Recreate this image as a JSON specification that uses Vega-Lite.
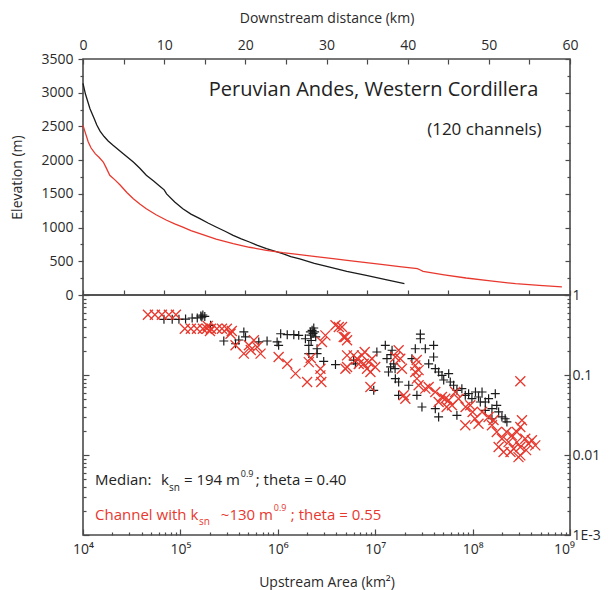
{
  "$schema": "https://vega.github.io/schema/vega-lite/v6.json",
  "padding": {"left": 10, "top": 10, "right": 0, "bottom": 0},
  "spacing": 0,
  "bounds": "flush",
  "config": {
    "font": "Open Sans",
    "view": {"stroke": "#4a4a4a", "strokeWidth": 1.6},
    "axis": {
      "domain": false, "grid": false,
      "labelFont": "Open Sans", "labelFontSize": 14, "labelColor": "#2a2a2a",
      "titleFont": "Open Sans", "titleFontSize": 14, "titleFontWeight": "normal", "titleColor": "#2a2a2a",
      "tickColor": "#4a4a4a", "tickWidth": 1.2, "labelOverlap": false, "labelFlush": false
    }
  },
  "datasets": {
    "profiles": [
      {"series": "median", "km": 0, "elev": 3140}, {"series": "median", "km": 0.3, "elev": 2980}, {"series": "median", "km": 0.86, "elev": 2763},
      {"series": "median", "km": 1.4, "elev": 2610}, {"series": "median", "km": 1.7, "elev": 2520}, {"series": "median", "km": 2.1, "elev": 2430},
      {"series": "median", "km": 2.6, "elev": 2350}, {"series": "median", "km": 3.1, "elev": 2285}, {"series": "median", "km": 3.7, "elev": 2220},
      {"series": "median", "km": 5.0, "elev": 2090}, {"series": "median", "km": 6.2, "elev": 1972}, {"series": "median", "km": 7.0, "elev": 1880},
      {"series": "median", "km": 7.8, "elev": 1775}, {"series": "median", "km": 8.7, "elev": 1690}, {"series": "median", "km": 9.5, "elev": 1610},
      {"series": "median", "km": 10.0, "elev": 1560}, {"series": "median", "km": 10.3, "elev": 1500}, {"series": "median", "km": 11.3, "elev": 1380},
      {"series": "median", "km": 12.3, "elev": 1280}, {"series": "median", "km": 13.3, "elev": 1200}, {"series": "median", "km": 14.4, "elev": 1132},
      {"series": "median", "km": 15.4, "elev": 1068}, {"series": "median", "km": 16.4, "elev": 1008}, {"series": "median", "km": 17.5, "elev": 945},
      {"series": "median", "km": 18.5, "elev": 885}, {"series": "median", "km": 19.5, "elev": 833}, {"series": "median", "km": 20.5, "elev": 786},
      {"series": "median", "km": 21.5, "elev": 735}, {"series": "median", "km": 22.6, "elev": 687}, {"series": "median", "km": 23.6, "elev": 650},
      {"series": "median", "km": 24.6, "elev": 613}, {"series": "median", "km": 25.6, "elev": 570}, {"series": "median", "km": 26.7, "elev": 535},
      {"series": "median", "km": 28.5, "elev": 470}, {"series": "median", "km": 30.4, "elev": 415}, {"series": "median", "km": 32.5, "elev": 350},
      {"series": "median", "km": 34.9, "elev": 292}, {"series": "median", "km": 37.3, "elev": 228}, {"series": "median", "km": 39.6, "elev": 168},
      {"series": "channel", "km": 0, "elev": 2516}, {"series": "channel", "km": 0.3, "elev": 2400}, {"series": "channel", "km": 0.65, "elev": 2269},
      {"series": "channel", "km": 1.0, "elev": 2180}, {"series": "channel", "km": 1.5, "elev": 2096}, {"series": "channel", "km": 2.0, "elev": 2040},
      {"series": "channel", "km": 2.5, "elev": 1972}, {"series": "channel", "km": 2.8, "elev": 1900}, {"series": "channel", "km": 3.3, "elev": 1775},
      {"series": "channel", "km": 4.0, "elev": 1700}, {"series": "channel", "km": 4.6, "elev": 1627}, {"series": "channel", "km": 5.4, "elev": 1520},
      {"series": "channel", "km": 6.2, "elev": 1428}, {"series": "channel", "km": 7.0, "elev": 1350}, {"series": "channel", "km": 7.8, "elev": 1280},
      {"series": "channel", "km": 9.0, "elev": 1190}, {"series": "channel", "km": 10.3, "elev": 1108}, {"series": "channel", "km": 11.3, "elev": 1055},
      {"series": "channel", "km": 12.3, "elev": 1008}, {"series": "channel", "km": 13.3, "elev": 955}, {"series": "channel", "km": 14.4, "elev": 909},
      {"series": "channel", "km": 16.4, "elev": 830}, {"series": "channel", "km": 18.5, "elev": 761}, {"series": "channel", "km": 20.5, "elev": 708},
      {"series": "channel", "km": 22.6, "elev": 663}, {"series": "channel", "km": 24.6, "elev": 628}, {"series": "channel", "km": 26.7, "elev": 598},
      {"series": "channel", "km": 28.7, "elev": 568}, {"series": "channel", "km": 30.8, "elev": 539}, {"series": "channel", "km": 32.8, "elev": 509},
      {"series": "channel", "km": 34.9, "elev": 479}, {"series": "channel", "km": 37.0, "elev": 450}, {"series": "channel", "km": 39.0, "elev": 420},
      {"series": "channel", "km": 41.2, "elev": 392}, {"series": "channel", "km": 41.5, "elev": 375}, {"series": "channel", "km": 41.9, "elev": 351},
      {"series": "channel", "km": 44.5, "elev": 300}, {"series": "channel", "km": 47.2, "elev": 252}, {"series": "channel", "km": 50.2, "elev": 210},
      {"series": "channel", "km": 53.3, "elev": 168}, {"series": "channel", "km": 56.2, "elev": 142}, {"series": "channel", "km": 59.0, "elev": 119}
    ],
    "black": [
      {"area": 6.78e4, "slope": 0.497}, {"area": 8.24e4, "slope": 0.497}, {"area": 9.66e4, "slope": 0.497}, {"area": 1.13e5, "slope": 0.50},
      {"area": 1.32e5, "slope": 0.516}, {"area": 1.49e5, "slope": 0.516}, {"area": 1.62e5, "slope": 0.546}, {"area": 1.70e5, "slope": 0.562},
      {"area": 1.78e5, "slope": 0.539}, {"area": 1.66e5, "slope": 0.53}, {"area": 2.04e5, "slope": 0.418}, {"area": 2.79e5, "slope": 0.266},
      {"area": 3.68e5, "slope": 0.246}, {"area": 3.98e5, "slope": 0.274}, {"area": 4.48e5, "slope": 0.345}, {"area": 4.66e5, "slope": 0.299},
      {"area": 6.38e5, "slope": 0.259}, {"area": 7.76e5, "slope": 0.266}, {"area": 9.84e5, "slope": 0.259}, {"area": 1.02e6, "slope": 0.235},
      {"area": 1.07e6, "slope": 0.328}, {"area": 1.25e6, "slope": 0.319}, {"area": 1.46e6, "slope": 0.319}, {"area": 1.64e6, "slope": 0.313},
      {"area": 1.92e6, "slope": 0.284}, {"area": 2.16e6, "slope": 0.345}, {"area": 2.25e6, "slope": 0.362}, {"area": 2.34e6, "slope": 0.387},
      {"area": 2.39e6, "slope": 0.345}, {"area": 2.18e6, "slope": 0.316}, {"area": 2.08e6, "slope": 0.235}, {"area": 2.08e6, "slope": 0.185},
      {"area": 2.53e6, "slope": 0.213}, {"area": 2.53e6, "slope": 0.185}, {"area": 2.96e6, "slope": 0.148}, {"area": 3.91e6, "slope": 0.135},
      {"area": 2.3e6, "slope": 0.33}, {"area": 2.45e6, "slope": 0.30}, {"area": 2.2e6, "slope": 0.27},
      {"area": 6.01e6, "slope": 0.153}, {"area": 6.26e6, "slope": 0.138}, {"area": 9.66e6, "slope": 0.0644}, {"area": 1.04e7, "slope": 0.194},
      {"area": 1.27e7, "slope": 0.235}, {"area": 1.32e7, "slope": 0.160}, {"area": 1.37e7, "slope": 0.109}, {"area": 1.49e7, "slope": 0.204},
      {"area": 1.55e7, "slope": 0.138}, {"area": 1.61e7, "slope": 0.090}, {"area": 1.74e7, "slope": 0.0557}, {"area": 2.21e7, "slope": 0.0744},
      {"area": 2.38e7, "slope": 0.160}, {"area": 2.58e7, "slope": 0.213}, {"area": 2.68e7, "slope": 0.0557}, {"area": 2.91e7, "slope": 0.284},
      {"area": 2.91e7, "slope": 0.325}, {"area": 3.02e7, "slope": 0.0398}, {"area": 3.27e7, "slope": 0.213}, {"area": 3.54e7, "slope": 0.138},
      {"area": 3.98e7, "slope": 0.235}, {"area": 3.98e7, "slope": 0.168}, {"area": 4.14e7, "slope": 0.120}, {"area": 4.48e7, "slope": 0.109},
      {"area": 4.14e7, "slope": 0.0379}, {"area": 4.48e7, "slope": 0.0299}, {"area": 5.68e7, "slope": 0.104}, {"area": 5.9e7, "slope": 0.0818},
      {"area": 6.38e7, "slope": 0.0744}, {"area": 6.9e7, "slope": 0.0644}, {"area": 6.9e7, "slope": 0.0313}, {"area": 7.76e7, "slope": 0.0675},
      {"area": 8.41e7, "slope": 0.0557}, {"area": 9.1e7, "slope": 0.0584}, {"area": 9.84e7, "slope": 0.0506}, {"area": 1.07e8, "slope": 0.0613},
      {"area": 1.15e8, "slope": 0.0531}, {"area": 1.2e8, "slope": 0.046}, {"area": 1.25e8, "slope": 0.0613}, {"area": 1.35e8, "slope": 0.046},
      {"area": 1.46e8, "slope": 0.0506}, {"area": 1.58e8, "slope": 0.0379}, {"area": 1.71e8, "slope": 0.0584}, {"area": 1.77e8, "slope": 0.0418},
      {"area": 1.85e8, "slope": 0.0345}, {"area": 2.0e8, "slope": 0.0299}, {"area": 2.16e8, "slope": 0.0284}, {"area": 2.25e8, "slope": 0.0259},
      {"area": 1.58e8, "slope": 0.0284}, {"area": 1.35e8, "slope": 0.0362}, {"area": 1.74e7, "slope": 0.0818}, {"area": 1.44e7, "slope": 0.126},
      {"area": 5.05e7, "slope": 0.0866}, {"area": 4.85e7, "slope": 0.099}, {"area": 1.45e7, "slope": 0.18}, {"area": 1.6e7, "slope": 0.12}
    ],
    "red": [
      {"area": 4.64e4, "slope": 0.567}, {"area": 5.47e4, "slope": 0.567}, {"area": 6.45e4, "slope": 0.567}, {"area": 7.62e4, "slope": 0.567}, {"area": 8.99e4, "slope": 0.567},
      {"area": 1.11e5, "slope": 0.379}, {"area": 1.28e5, "slope": 0.379}, {"area": 1.48e5, "slope": 0.379}, {"area": 1.70e5, "slope": 0.379}, {"area": 1.87e5, "slope": 0.379},
      {"area": 2.06e5, "slope": 0.379}, {"area": 2.37e5, "slope": 0.379}, {"area": 2.67e5, "slope": 0.379}, {"area": 3.0e5, "slope": 0.379}, {"area": 1.91e5, "slope": 0.41},
      {"area": 2.01e5, "slope": 0.355}, {"area": 3.27e5, "slope": 0.328}, {"area": 3.37e5, "slope": 0.355}, {"area": 3.68e5, "slope": 0.235}, {"area": 4.48e5, "slope": 0.185},
      {"area": 5.05e5, "slope": 0.235}, {"area": 5.68e5, "slope": 0.272}, {"area": 6.14e5, "slope": 0.224}, {"area": 6.65e5, "slope": 0.185}, {"area": 5.28e5, "slope": 0.205},
      {"area": 1.02e6, "slope": 0.168}, {"area": 1.25e6, "slope": 0.138}, {"area": 1.52e6, "slope": 0.104}, {"area": 2.0e6, "slope": 0.0818}, {"area": 2.08e6, "slope": 0.145},
      {"area": 2.18e6, "slope": 0.163}, {"area": 2.74e6, "slope": 0.120}, {"area": 2.74e6, "slope": 0.099}, {"area": 2.8e6, "slope": 0.0818}, {"area": 2.84e6, "slope": 0.259},
      {"area": 3.08e6, "slope": 0.313}, {"area": 3.91e6, "slope": 0.418}, {"area": 4.56e6, "slope": 0.398}, {"area": 4.94e6, "slope": 0.299}, {"area": 4.23e6, "slope": 0.398},
      {"area": 4.75e6, "slope": 0.299}, {"area": 5.14e6, "slope": 0.272}, {"area": 5.14e6, "slope": 0.176}, {"area": 4.94e6, "slope": 0.120}, {"area": 5.14e6, "slope": 0.126},
      {"area": 6.01e6, "slope": 0.176}, {"area": 6.5e6, "slope": 0.160}, {"area": 7.32e6, "slope": 0.176}, {"area": 7.62e6, "slope": 0.138}, {"area": 8.24e6, "slope": 0.120},
      {"area": 8.57e6, "slope": 0.145}, {"area": 8.93e6, "slope": 0.109}, {"area": 9.27e6, "slope": 0.160}, {"area": 8.93e6, "slope": 0.0708}, {"area": 1.0e7, "slope": 0.126},
      {"area": 6.78e6, "slope": 0.137}, {"area": 7.8e6, "slope": 0.194}, {"area": 1.61e7, "slope": 0.168}, {"area": 1.74e7, "slope": 0.204}, {"area": 1.81e7, "slope": 0.160},
      {"area": 1.88e7, "slope": 0.120}, {"area": 1.96e7, "slope": 0.0557}, {"area": 2.04e7, "slope": 0.0506}, {"area": 2.58e7, "slope": 0.132}, {"area": 2.58e7, "slope": 0.109},
      {"area": 2.68e7, "slope": 0.090}, {"area": 2.79e7, "slope": 0.0744}, {"area": 2.67e7, "slope": 0.154}, {"area": 2.79e7, "slope": 0.115}, {"area": 3.27e7, "slope": 0.0675},
      {"area": 3.54e7, "slope": 0.0708}, {"area": 4.14e7, "slope": 0.0613}, {"area": 4.84e7, "slope": 0.0531}, {"area": 5.24e7, "slope": 0.0506}, {"area": 5.68e7, "slope": 0.0483},
      {"area": 6.14e7, "slope": 0.0418}, {"area": 6.64e7, "slope": 0.0613}, {"area": 7.18e7, "slope": 0.0506}, {"area": 5.41e7, "slope": 0.0398}, {"area": 4.48e7, "slope": 0.046},
      {"area": 8.41e7, "slope": 0.0235}, {"area": 9.46e7, "slope": 0.0418}, {"area": 1.06e8, "slope": 0.0284}, {"area": 1.15e8, "slope": 0.0246}, {"area": 1.25e8, "slope": 0.0345},
      {"area": 1.0e8, "slope": 0.0345}, {"area": 8.47e7, "slope": 0.0398}, {"area": 1.58e8, "slope": 0.0235}, {"area": 1.77e8, "slope": 0.0194}, {"area": 2.0e8, "slope": 0.016},
      {"area": 2.08e8, "slope": 0.0109}, {"area": 2.34e8, "slope": 0.0145}, {"area": 2.53e8, "slope": 0.0176}, {"area": 2.64e8, "slope": 0.012}, {"area": 2.85e8, "slope": 0.0145},
      {"area": 3.09e8, "slope": 0.0126}, {"area": 3.09e8, "slope": 0.0099}, {"area": 3.21e8, "slope": 0.0272}, {"area": 3.09e8, "slope": 0.0834}, {"area": 3.47e8, "slope": 0.016},
      {"area": 3.75e8, "slope": 0.0138}, {"area": 4.06e8, "slope": 0.0153}, {"area": 4.4e8, "slope": 0.0132}, {"area": 2.85e8, "slope": 0.0194}, {"area": 2.45e8, "slope": 0.0109},
      {"area": 2.96e8, "slope": 0.0094}, {"area": 3.54e8, "slope": 0.0115}, {"area": 1.85e8, "slope": 0.0126}, {"area": 2.23e8, "slope": 0.0194}, {"area": 1.46e8, "slope": 0.0299},
      {"area": 1.64e8, "slope": 0.0274}, {"area": 3.09e8, "slope": 0.0224}
    ]
  },
  "vconcat": [
    {
      "width": 487, "height": 236,
      "resolve": {"axis": {"x": "independent", "y": "independent"}},
      "layer": [
        {
          "data": {"name": "profiles"},
          "mark": {"type": "line", "strokeWidth": 1.3},
          "encoding": {
            "x": {"field": "km", "type": "quantitative", "scale": {"domain": [0, 60], "nice": false},
              "axis": {"orient": "top", "values": [0,5,10,15,20,25,30,35,40,45,50,55,60], "format": "d",
                "labelExpr": "datum.value % 10 == 0 ? datum.label : ''", "tickSize": -5, "labelPadding": 12,
                "title": "Downstream distance (km)", "titlePadding": 13}},
            "y": {"field": "elev", "type": "quantitative", "scale": {"domain": [0, 3500], "nice": false},
              "axis": {"orient": "left", "values": [0,250,500,750,1000,1250,1500,1750,2000,2250,2500,2750,3000,3250,3500], "format": "d",
                "labelExpr": "datum.value % 500 == 0 ? datum.label : ''",
                "tickSize": {"condition": {"test": "datum.value % 500 == 0", "value": 5}, "value": 3},
                "labelPadding": 5, "title": "Elevation (m)", "titlePadding": 16}},
            "color": {"field": "series", "type": "nominal", "scale": {"domain": ["median", "channel"], "range": ["#1a1a1a", "#e8382e"]}, "legend": null},
            "order": {"field": "km", "type": "quantitative"}
          }
        },
        {
          "data": {"values": [{}]},
          "mark": {"type": "text", "text": "Peruvian Andes, Western Cordillera", "align": "right", "baseline": "middle", "fontSize": 20, "color": "#222222"},
          "encoding": {
            "x": {"datum": 56.1, "type": "quantitative",
              "axis": {"orient": "bottom", "values": [0,5,10,15,20,25,30,35,40,45,50,55,60], "labels": false, "tickSize": -5, "title": null}},
            "y": {"datum": 3040, "type": "quantitative",
              "axis": {"orient": "right", "values": [0,250,500,750,1000,1250,1500,1750,2000,2250,2500,2750,3000,3250,3500], "labels": false,
                "tickSize": {"condition": {"test": "datum.value % 500 == 0", "value": -5}, "value": -3}, "title": null}}
          }
        },
        {
          "data": {"values": [{}]},
          "mark": {"type": "text", "text": "(120 channels)", "align": "right", "baseline": "middle", "fontSize": 17, "color": "#222222"},
          "encoding": {
            "x": {"datum": 56.5, "type": "quantitative", "axis": null},
            "y": {"datum": 2440, "type": "quantitative", "axis": null}
          }
        }
      ]
    },
    {
      "width": 487, "height": 240,
      "resolve": {"axis": {"x": "independent", "y": "independent"}},
      "layer": [
        {
          "data": {"name": "black"},
          "mark": {"type": "point", "shape": "M-1,0L1,0M0,-1L0,1", "filled": false, "stroke": "#1a1a1a", "strokeWidth": 1.2, "size": 80, "opacity": 1},
          "encoding": {
            "x": {"field": "area", "type": "quantitative", "scale": {"type": "log", "domain": [1e4, 1e9], "nice": false},
              "axis": {"orient": "bottom",
                "values": [1e4,2e4,3e4,4e4,5e4,6e4,7e4,8e4,9e4,1e5,2e5,3e5,4e5,5e5,6e5,7e5,8e5,9e5,1e6,2e6,3e6,4e6,5e6,6e6,7e6,8e6,9e6,1e7,2e7,3e7,4e7,5e7,6e7,7e7,8e7,9e7,1e8,2e8,3e8,4e8,5e8,6e8,7e8,8e8,9e8,1e9],
                "labelExpr": "abs(log(datum.value)/LN10 - round(log(datum.value)/LN10)) < 0.01 ? '10' + ['⁰','¹','²','³','⁴','⁵','⁶','⁷','⁸','⁹'][round(log(datum.value)/LN10)] : ''",
                "labelOffset": {"condition": {"test": "datum.value >= 9.9e8", "value": -6}, "value": 0},
                "tickSize": {"condition": {"test": "abs(log(datum.value)/LN10 - round(log(datum.value)/LN10)) < 0.01", "value": -6}, "value": -3},
                "labelPadding": 13, "title": "Upstream Area (km²)", "titlePadding": 16}},
            "y": {"field": "slope", "type": "quantitative", "scale": {"type": "log", "domain": [0.001, 1], "nice": false},
              "axis": {"orient": "left",
                "values": [0.001,0.002,0.003,0.004,0.005,0.006,0.007,0.008,0.009,0.01,0.02,0.03,0.04,0.05,0.06,0.07,0.08,0.09,0.1,0.2,0.3,0.4,0.5,0.6,0.7,0.8,0.9,1],
                "labels": false,
                "tickSize": {"condition": {"test": "abs(log(datum.value)/LN10 - round(log(datum.value)/LN10)) < 0.01", "value": -6}, "value": -3},
                "title": null}}
          }
        },
        {
          "data": {"name": "red"},
          "mark": {"type": "point", "shape": "M-1,-1L1,1M-1,1L1,-1", "filled": false, "stroke": "#e8382e", "strokeWidth": 1.3, "size": 100, "opacity": 1},
          "encoding": {
            "x": {"field": "area", "type": "quantitative", "axis": null},
            "y": {"field": "slope", "type": "quantitative",
              "axis": {"orient": "right",
                "values": [0.001,0.002,0.003,0.004,0.005,0.006,0.007,0.008,0.009,0.01,0.02,0.03,0.04,0.05,0.06,0.07,0.08,0.09,0.1,0.2,0.3,0.4,0.5,0.6,0.7,0.8,0.9,1],
                "labelExpr": "abs(log(datum.value)/LN10 - round(log(datum.value)/LN10)) < 0.01 ? (round(log(datum.value)/LN10) == -3 ? '1E-3' : format(datum.value, '~g')) : ''",
                "tickSize": {"condition": {"test": "abs(log(datum.value)/LN10 - round(log(datum.value)/LN10)) < 0.01", "value": -6}, "value": -3},
                "labelPadding": 8, "title": null}}
          }
        },
        {
          "data": {"values": [{}]},
          "mark": {"type": "text", "text": "Median:", "align": "left", "baseline": "alphabetic", "fontSize": 15, "color": "#222222"},
          "encoding": {"x": {"datum": 1.33e4, "type": "quantitative", "axis": null}, "y": {"datum": 0.00422, "type": "quantitative", "axis": null}}
        },
        {
          "data": {"values": [{}]},
          "mark": {"type": "text", "text": "k", "align": "left", "baseline": "alphabetic", "fontSize": 15, "color": "#222222"},
          "encoding": {"x": {"datum": 6.31e4, "type": "quantitative", "axis": null}, "y": {"datum": 0.00422, "type": "quantitative", "axis": null}}
        },
        {
          "data": {"values": [{}]},
          "mark": {"type": "text", "text": "sn", "align": "left", "baseline": "alphabetic", "fontSize": 10, "color": "#222222"},
          "encoding": {"x": {"datum": 7.62e4, "type": "quantitative", "axis": null}, "y": {"datum": 0.00355, "type": "quantitative", "axis": null}}
        },
        {
          "data": {"values": [{}]},
          "mark": {"type": "text", "text": "= 194 m", "align": "left", "baseline": "alphabetic", "fontSize": 15, "color": "#222222"},
          "encoding": {"x": {"datum": 1.087e5, "type": "quantitative", "axis": null}, "y": {"datum": 0.00422, "type": "quantitative", "axis": null}}
        },
        {
          "data": {"values": [{}]},
          "mark": {"type": "text", "text": "0.9", "align": "left", "baseline": "alphabetic", "fontSize": 9, "color": "#222222"},
          "encoding": {"x": {"datum": 4.17e5, "type": "quantitative", "axis": null}, "y": {"datum": 0.00531, "type": "quantitative", "axis": null}}
        },
        {
          "data": {"values": [{}]},
          "mark": {"type": "text", "text": "; theta = 0.40", "align": "left", "baseline": "alphabetic", "fontSize": 15, "color": "#222222"},
          "encoding": {"x": {"datum": 5.94e5, "type": "quantitative", "axis": null}, "y": {"datum": 0.00422, "type": "quantitative", "axis": null}}
        },
        {
          "data": {"values": [{}]},
          "mark": {"type": "text", "text": "Channel with k", "align": "left", "baseline": "alphabetic", "fontSize": 15, "color": "#e8382e"},
          "encoding": {"x": {"datum": 1.33e4, "type": "quantitative", "axis": null}, "y": {"datum": 0.00154, "type": "quantitative", "axis": null}}
        },
        {
          "data": {"values": [{}]},
          "mark": {"type": "text", "text": "sn", "align": "left", "baseline": "alphabetic", "fontSize": 10, "color": "#e8382e"},
          "encoding": {"x": {"datum": 1.548e5, "type": "quantitative", "axis": null}, "y": {"datum": 0.00133, "type": "quantitative", "axis": null}}
        },
        {
          "data": {"values": [{}]},
          "mark": {"type": "text", "text": "~130 m", "align": "left", "baseline": "alphabetic", "fontSize": 15, "color": "#e8382e"},
          "encoding": {"x": {"datum": 2.6e5, "type": "quantitative", "axis": null}, "y": {"datum": 0.00154, "type": "quantitative", "axis": null}}
        },
        {
          "data": {"values": [{}]},
          "mark": {"type": "text", "text": "0.9", "align": "left", "baseline": "alphabetic", "fontSize": 9, "color": "#e8382e"},
          "encoding": {"x": {"datum": 9.1e5, "type": "quantitative", "axis": null}, "y": {"datum": 0.00202, "type": "quantitative", "axis": null}}
        },
        {
          "data": {"values": [{}]},
          "mark": {"type": "text", "text": "; theta = 0.55", "align": "left", "baseline": "alphabetic", "fontSize": 15, "color": "#e8382e"},
          "encoding": {"x": {"datum": 1.36e6, "type": "quantitative", "axis": null}, "y": {"datum": 0.00154, "type": "quantitative", "axis": null}}
        }
      ]
    }
  ]
}
